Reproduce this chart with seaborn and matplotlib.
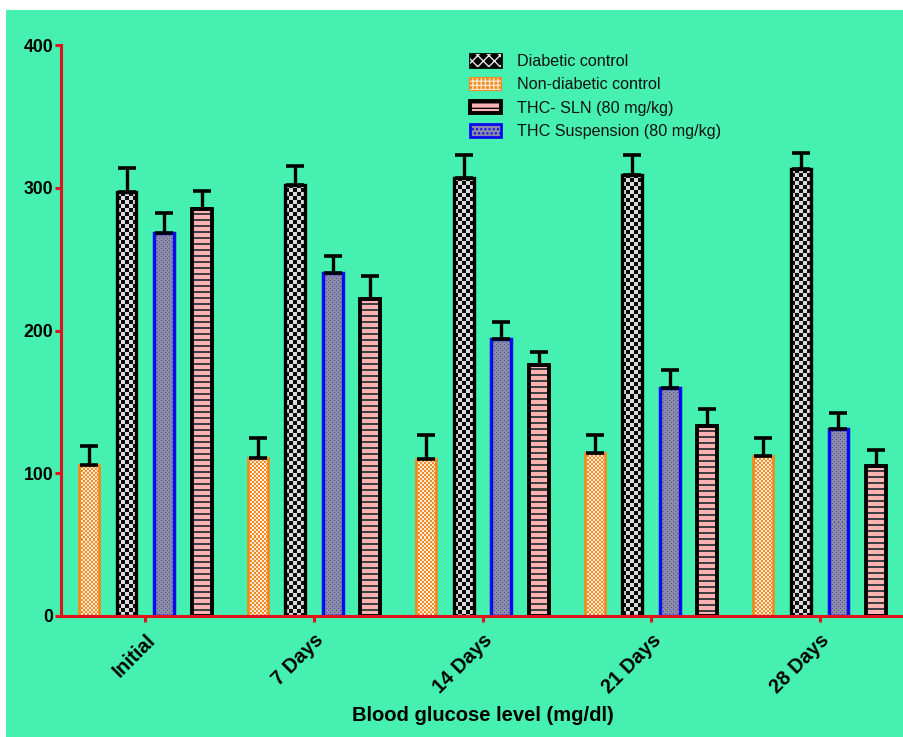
import numpy as np
import pandas as pd
import matplotlib
matplotlib.use("Agg")
import matplotlib.pyplot as plt
from matplotlib.patches import Patch, Rectangle
import seaborn as sns

# ---- data (mg/dl, mean and SD) ----
time_points = ["Initial", "7 Days", "14 Days", "21 Days", "28 Days"]
groups = ["Non-diabetic control", "Diabetic control",
          "THC Suspension (80 mg/kg)", "THC- SLN (80 mg/kg)"]
legend_order = ["Diabetic control", "Non-diabetic control",
                "THC- SLN (80 mg/kg)", "THC Suspension (80 mg/kg)"]

non_diabetic = [106, 111, 110, 114, 112]
non_diabetic_sd = [13, 14, 17, 13, 13]
diabetic = [297, 302, 307, 309, 313]
diabetic_sd = [17, 13, 16, 14, 11]
thc_suspension = [268, 240, 194, 160, 131]
thc_suspension_sd = [14, 12, 12, 12, 11]
thc_sln = [285, 222, 176, 133, 105]
thc_sln_sd = [13, 16, 9, 12, 11]

y_ticks = [0, 100, 200, 300, 400]

means = {groups[0]: non_diabetic, groups[1]: diabetic,
         groups[2]: thc_suspension, groups[3]: thc_sln}
sds = {groups[0]: non_diabetic_sd, groups[1]: diabetic_sd,
       groups[2]: thc_suspension_sd, groups[3]: thc_sln_sd}

df = pd.DataFrame([(t, g, means[g][i]) for g in groups
                   for i, t in enumerate(time_points)],
                  columns=["Time", "Group", "Value"])

# ---- styling ----
BG = "#45f0b1"
RED = "#e3131b"
ORANGE = "#f28a1e"
BLUE = "#0a0af0"
edge_colors = {groups[0]: ORANGE, groups[1]: "black",
               groups[2]: BLUE, groups[3]: "black"}
edge_widths = {groups[0]: 2.0, groups[1]: 2.4, groups[2]: 2.5, groups[3]: 2.8}

sns.set_style("ticks")
plt.rcParams["font.family"] = ["Liberation Sans", "DejaVu Sans"]
plt.rcParams["text.color"] = "black"

W, H = 904, 737
fig = plt.figure(figsize=(W / 100, H / 100), dpi=100, facecolor="white")
fig.patches.append(Rectangle((6 / W, 0), 1, 1 - 10 / H, transform=fig.transFigure,
                             facecolor=BG, edgecolor="none", zorder=-10))

ax = fig.add_axes([61 / W, 1 - 616 / H, (W - 61) / W, (616 - 45) / H])
ax.set_facecolor("none")

sns.barplot(data=df, x="Time", y="Value", hue="Group", order=time_points,
            hue_order=groups, width=0.89, gap=0.47, errorbar=None,
            legend=False, ax=ax, palette=["white"] * 4)

ax.set_xlim(-0.5, 4.5)
ax.set_ylim(0, 400)


def texture(kind, w, h):
    r, c = np.indices((h, w))
    img = np.ones((h, w, 3))
    if kind == 0:   # fine orange check
        m = ((r // 2 + c // 2) % 2) == 0
        img[:] = np.array([1.0, 0.92, 0.84])
        img[m] = np.array([0.95, 0.55, 0.16])
    elif kind == 1:  # black / grey check
        m = ((r // 4 + c // 4) % 2) == 0
        img[:] = 0.05
        img[m] = 0.86
    elif kind == 2:  # grey with blue speckles
        img[:] = np.array([0.55, 0.55, 0.65])
        m = ((r % 4 == 1) & (c % 4 == 1)) | ((r % 4 == 3) & (c % 4 == 3))
        img[m] = np.array([0.30, 0.30, 0.72])
    else:            # pink with dark horizontal stripes
        img[:] = np.array([1.0, 0.70, 0.70])
        img[(r % 6) >= 4] = np.array([0.25, 0.25, 0.25])
    return img


for k, (g, cont) in enumerate(zip(groups, ax.containers)):
    xs, ys = [], []
    for p in cont.patches:
        x0, w, h = p.get_x(), p.get_width(), p.get_height()
        (px0, py0), (px1, py1) = ax.transData.transform([(x0, 0), (x0 + w, h)])
        tw, th = max(int(round(px1 - px0)), 1), max(int(round(py1 - py0)), 1)
        im = ax.imshow(texture(k, tw, th), extent=(x0, x0 + w, 0, h),
                       aspect="auto", interpolation="nearest", zorder=1.5)
        im.set_clip_path(p)
        p.set_facecolor("none")
        p.set_edgecolor(edge_colors[g])
        p.set_linewidth(edge_widths[g])
        p.set_zorder(2)
        xs.append(x0 + w / 2)
        ys.append(h)
    err = np.array(sds[g])
    ax.errorbar(xs, ys, yerr=[np.zeros_like(err), err], fmt="none",
                ecolor="black", elinewidth=2.4, capsize=6.4, capthick=2.6,
                zorder=3)

ax.set_xlim(-0.5, 4.5)
ax.set_ylim(0, 400)

# ---- axes ----
for s in ["top", "right"]:
    ax.spines[s].set_visible(False)
for s in ["left", "bottom"]:
    ax.spines[s].set_color(RED)
    ax.spines[s].set_linewidth(2.2)

ax.set_yticks(y_ticks)
ax.set_yticklabels([str(v) for v in y_ticks], fontsize=12.7, fontweight="bold")
ax.tick_params(axis="y", colors=RED, labelcolor="black", length=4.5, width=2.2, pad=1)
ax.tick_params(axis="x", colors=RED, labelcolor="black", length=4.5, width=2.2, pad=6)
ax.set_xticks(range(len(time_points)))
ax.set_xticklabels(time_points, fontsize=14.2, fontweight="bold", rotation=45,
                   ha="right", rotation_mode="anchor")

ax.set_ylabel("")
ax.set_xlabel("Blood glucose level (mg/dl)", fontsize=14.5, fontweight="bold",
              color="black")
ax.xaxis.set_label_coords(0.5, -0.158)

# ---- legend ----
legend_handles = {
    "Diabetic control": (Patch(facecolor="black", edgecolor="black", lw=2),
                         Patch(facecolor="none", edgecolor="#e6e6e6", hatch="xxx", lw=0)),
    "Non-diabetic control": (Patch(facecolor=ORANGE, edgecolor=ORANGE, lw=1.5),
                             Patch(facecolor="none", edgecolor="#fde4c8", hatch="++++", lw=0)),
    "THC- SLN (80 mg/kg)": Patch(facecolor="#ffb3b3", edgecolor="black", hatch="---", lw=2.8),
    "THC Suspension (80 mg/kg)": Patch(facecolor="#8a8aa6", edgecolor=BLUE, hatch="....", lw=2),
}
ax.legend([legend_handles[n] for n in legend_order], legend_order,
          loc="upper left", bbox_to_anchor=(470 / W, 1 - 54 / H),
          bbox_transform=fig.transFigure, frameon=False, fontsize=11.6,
          handlelength=1.9, handleheight=0.8, handletextpad=1.0,
          labelspacing=0.52, borderpad=0, borderaxespad=0, labelcolor="#111111")

fig.savefig("out.png", dpi=100, facecolor="white")
